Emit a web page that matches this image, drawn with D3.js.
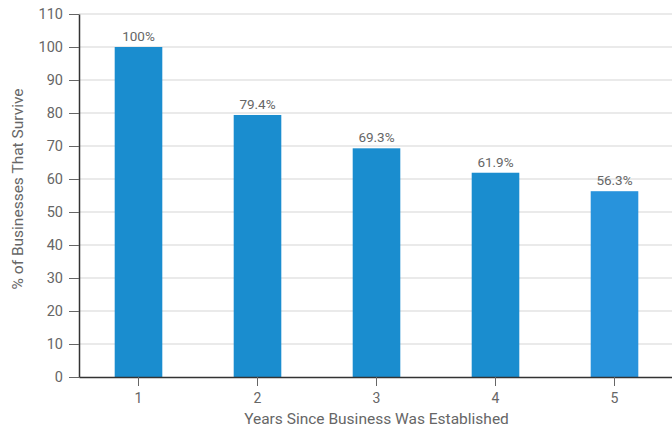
<!DOCTYPE html>
<html>
<head>
<meta charset="utf-8">
<script src="https://cdn.jsdelivr.net/npm/d3@7"></script>
<style>
  body { margin: 0; background: #fff; }
  #chart { width: 672px; height: 429px; }
  text { font-family: Roboto, "Noto Sans", sans-serif; }
</style>
</head>
<body>
<div id="chart"></div>
<script>
// Data
const years = ['1', '2', '3', '4', '5'];
const survival = [100, 79.4, 69.3, 61.9, 56.3];
const valueLabels = ['100%', '79.4%', '69.3%', '61.9%', '56.3%'];
const barColors = ['#1a8dcf', '#1a8dcf', '#1a8dcf', '#1a8dcf', '#2893dc'];
const yTicks = [0, 10, 20, 30, 40, 50, 60, 70, 80, 90, 100, 110];

const data = years.map((y, i) => ({ year: y, value: survival[i], label: valueLabels[i], color: barColors[i] }));

// Set up dimensions
const margin = { top: 14, right: 0, bottom: 52, left: 79 };
const totalW = 672, totalH = 429;
const width = totalW - margin.left - margin.right;
const height = totalH - margin.top - margin.bottom;

const svg = d3.select('#chart')
  .append('svg')
  .attr('width', totalW)
  .attr('height', totalH)
  .append('g')
  .attr('transform', `translate(${margin.left},${margin.top})`);

// Scales
const x = d3.scaleBand()
  .domain(years)
  .range([0, width + 2])
  .paddingInner(0.6)
  .paddingOuter(0.3);

const y = d3.scaleLinear()
  .domain([0, 110])
  .range([height, 0]);

// Gridlines
svg.append('g')
  .selectAll('line')
  .data(yTicks.filter((d) => d > 0))
  .enter()
  .append('line')
  .attr('x1', 0)
  .attr('x2', width)
  .attr('y1', (d) => y(d))
  .attr('y2', (d) => y(d))
  .attr('stroke', '#e3e3e3')
  .attr('stroke-width', 1.5);

// Bars
svg.append('g')
  .selectAll('rect')
  .data(data)
  .enter()
  .append('rect')
  .attr('x', (d) => x(d.year))
  .attr('y', (d) => y(d.value))
  .attr('width', x.bandwidth())
  .attr('height', (d) => height - y(d.value))
  .attr('fill', (d) => d.color);

// Value labels
svg.append('g')
  .selectAll('text')
  .data(data)
  .enter()
  .append('text')
  .attr('x', (d) => x(d.year) + x.bandwidth() / 2)
  .attr('y', (d) => y(d.value) - 6)
  .attr('text-anchor', 'middle')
  .style('font-size', '13.5px')
  .style('fill', '#666')
  .text((d) => d.label);

// X axis
const xAxis = svg.append('g')
  .attr('transform', `translate(0,${height})`)
  .call(d3.axisBottom(x).tickSize(9).tickSizeOuter(0));
xAxis.select('.domain').attr('stroke', '#333').attr('stroke-width', 1.5);
xAxis.selectAll('.tick line').attr('stroke', '#666');
xAxis.selectAll('text')
  .attr('y', 13)
  .attr('dy', '0.9em')
  .style('font-size', '14px')
  .style('fill', '#666');

// Y axis
const yAxis = svg.append('g')
  .call(d3.axisLeft(y).tickValues(yTicks).tickSize(10).tickSizeOuter(0));
yAxis.select('.domain').attr('stroke', '#333').attr('stroke-width', 1.5);
yAxis.selectAll('.tick line').attr('stroke', '#666');
yAxis.selectAll('text')
  .attr('x', -16)
  .style('font-size', '14.5px')
  .style('fill', '#666');

// X-axis label
svg.append('text')
  .attr('x', (x('1') + x('5') + x.bandwidth()) / 2)
  .attr('y', height + 47)
  .attr('text-anchor', 'middle')
  .style('font-size', '15.5px')
  .style('fill', '#666')
  .text('Years Since Business Was Established');

// Y-axis label
svg.append('text')
  .attr('transform', 'rotate(-90)')
  .attr('x', -y(57))
  .attr('y', -margin.left + 23)
  .attr('text-anchor', 'middle')
  .style('font-size', '15.5px')
  .style('fill', '#666')
  .text('% of Businesses That Survive');
</script>
</body>
</html>
